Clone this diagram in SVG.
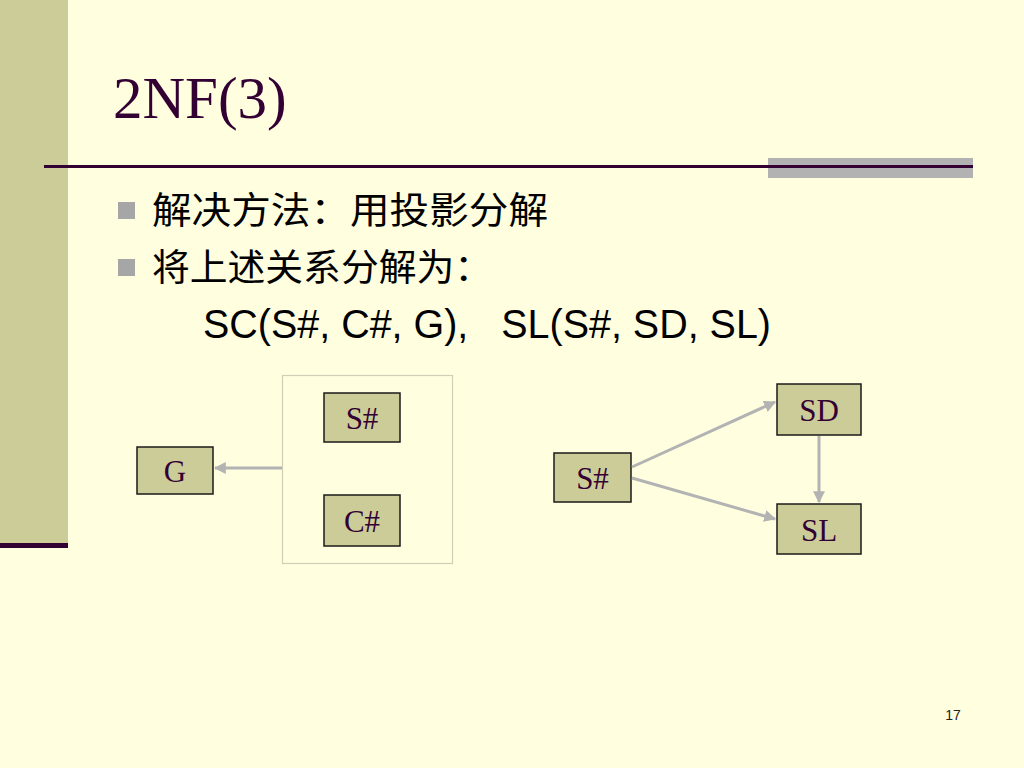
<svg xmlns="http://www.w3.org/2000/svg" width="1024" height="768" viewBox="0 0 1024 768">
<defs>
<style>
.node rect{fill:#CCCC99;stroke:#1a1a1a;stroke-width:1.5}
.node text{font-family:"Liberation Serif","Times New Roman",serif;font-size:31px;fill:#330033;text-anchor:middle}
.conn{stroke:#B3B3B3;stroke-width:3;fill:none;marker-end:url(#ah)}
.cjk{font-family:"Noto Sans CJK SC","Noto Sans",sans-serif;font-size:37px;fill:#000}
.bullet{fill:#A6A6A6}
</style>
<marker id="ah" viewBox="0 0 10 10" refX="9" refY="5" markerWidth="4" markerHeight="4" orient="auto" markerUnits="strokeWidth">
<path d="M0,0 L10,5 L0,10 z" fill="#B3B3B3"/>
</marker>
</defs>
<rect x="0" y="0" width="1024" height="768" fill="#FFFFE0"/>
<rect x="0" y="0" width="68" height="544" fill="#CCCC99"/>
<rect x="0" y="543" width="68" height="5" fill="#330033"/>
<rect x="768" y="158" width="205" height="20" fill="#B2B2B2"/>
<rect x="44" y="165" width="929" height="3" fill="#330033"/>
<text x="113" y="118" font-family="Liberation Serif,'Times New Roman',serif" font-size="59" fill="#330033">2NF(3)</text>
<rect class="bullet" x="118" y="202" width="17" height="17"/>
<rect class="bullet" x="118" y="259" width="17" height="17"/>
<text class="cjk" x="152" y="224" textLength="396" lengthAdjust="spacingAndGlyphs">解决方法：用投影分解</text>
<text class="cjk" x="152" y="281" textLength="340" lengthAdjust="spacingAndGlyphs">将上述关系分解为：</text>
<text x="203" y="338" font-family="Liberation Sans,Arial,sans-serif" font-size="40" fill="#000" xml:space="preserve" textLength="568" lengthAdjust="spacingAndGlyphs">SC(S#, C#, G),   SL(S#, SD, SL)</text>
<rect id="group-box" x="282.5" y="375.5" width="170" height="188" fill="none" stroke="#CFCFB8" stroke-width="1.2"/>
<g id="node-g" class="node"><rect x="137" y="447" width="76" height="47"/><text x="175" y="482">G</text></g>
<g id="node-s1" class="node"><rect x="324" y="393" width="76" height="49"/><text x="362" y="429">S#</text></g>
<g id="node-c" class="node"><rect x="324" y="495" width="76" height="51"/><text x="362" y="532">C#</text></g>
<g id="node-s2" class="node"><rect x="554" y="453" width="77" height="49"/><text x="592.5" y="489">S#</text></g>
<g id="node-sd" class="node"><rect x="777" y="384" width="84" height="51"/><text x="819" y="421">SD</text></g>
<g id="node-sl" class="node"><rect x="777" y="504" width="84" height="50"/><text x="819" y="541">SL</text></g>
<g id="connectors">
<line class="conn" x1="282" y1="468" x2="215" y2="468"/>
<line class="conn" x1="632" y1="467" x2="775" y2="402"/>
<line class="conn" x1="632" y1="478" x2="775" y2="519"/>
<line class="conn" x1="819" y1="436" x2="819" y2="502"/>
</g>
<text x="953" y="720" font-family="Liberation Sans,Arial,sans-serif" font-size="14" fill="#222" text-anchor="middle">17</text>
</svg>
